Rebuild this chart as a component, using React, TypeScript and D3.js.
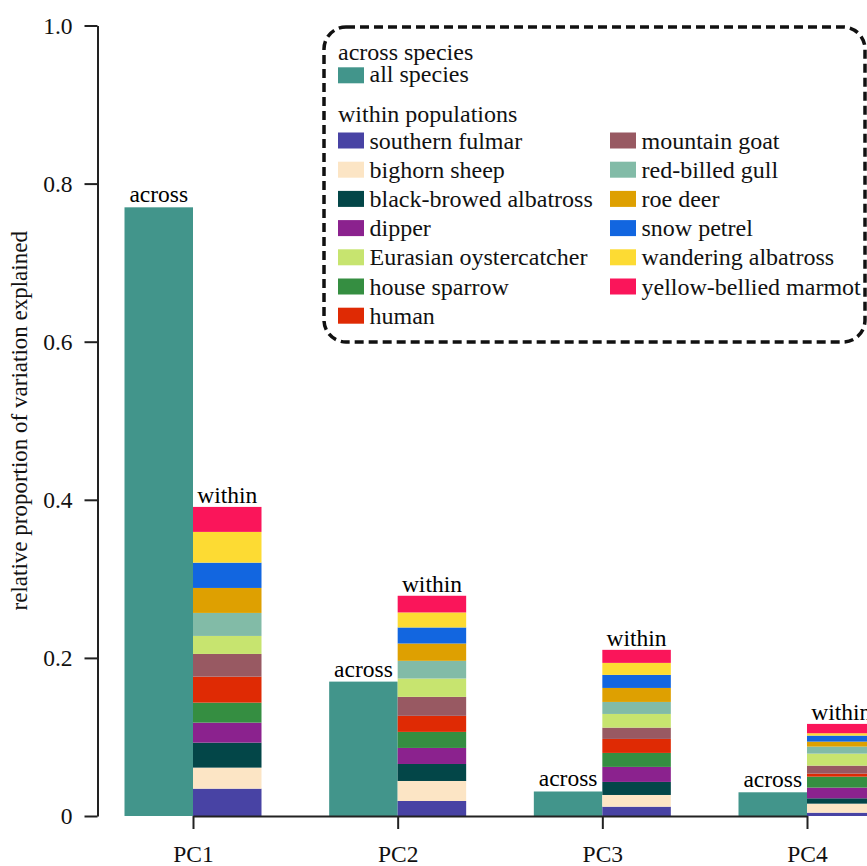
import React, { useEffect, useRef } from 'react';
import * as d3 from 'd3';

// principal components on the x axis
const components = ["PC1", "PC2", "PC3", "PC4"];

// across species: one value per PC
const acrossValues = [0.77, 0.17, 0.031, 0.03];

// within populations, stack order (bottom -> top)
const stackOrder = [
  "southern fulmar",
  "bighorn sheep",
  "black-browed albatross",
  "dipper",
  "house sparrow",
  "human",
  "mountain goat",
  "Eurasian oystercatcher",
  "red-billed gull",
  "roe deer",
  "snow petrel",
  "wandering albatross",
  "yellow-bellied marmot",
];

const withinPC1 = [0.0346, 0.0266, 0.0316, 0.0253, 0.0253, 0.0329, 0.0287, 0.0228, 0.0291, 0.0316, 0.032, 0.0389, 0.0316];
const withinPC2 = [0.019, 0.0253, 0.0215, 0.0203, 0.0203, 0.0203, 0.024, 0.0232, 0.0224, 0.0219, 0.0203, 0.019, 0.0211];
const withinPC3 = [0.0118, 0.0148, 0.0165, 0.019, 0.0177, 0.0177, 0.0143, 0.0173, 0.0152, 0.0177, 0.0165, 0.0152, 0.0165];
const withinPC4 = [0.0042, 0.0114, 0.0068, 0.0135, 0.0139, 0.0038, 0.0101, 0.0152, 0.0089, 0.0063, 0.0076, 0.003, 0.0118];

// legend columns
const legendCol1 = ["southern fulmar", "bighorn sheep", "black-browed albatross", "dipper", "Eurasian oystercatcher", "house sparrow", "human"];
const legendCol2 = ["mountain goat", "red-billed gull", "roe deer", "snow petrel", "wandering albatross", "yellow-bellied marmot"];

const yTicks = [0, 0.2, 0.4, 0.6, 0.8, 1.0];

const acrossColor = "#42958b";
const speciesColors: Record<string, string> = {
  "southern fulmar": "#4843a4",
  "bighorn sheep": "#fce5c5",
  "black-browed albatross": "#034648",
  "dipper": "#8b228e",
  "Eurasian oystercatcher": "#c7e46f",
  "house sparrow": "#358e41",
  "human": "#df2a04",
  "mountain goat": "#985962",
  "red-billed gull": "#82bba7",
  "roe deer": "#dea001",
  "snow petrel": "#1266e0",
  "wandering albatross": "#fddb33",
  "yellow-bellied marmot": "#fa155a",
};

const FONT = "'Liberation Serif', 'Times New Roman', serif";

const App: React.FC = () => {
  const svgRef = useRef<SVGSVGElement>(null);

  useEffect(() => {
    if (!svgRef.current) return;
    const svg = d3.select(svgRef.current);
    svg.selectAll("*").remove();

    const W = 867;
    const H = 866;
    svg.attr("width", W).attr("height", H);

    const x = d3.scalePoint<string>().domain(components).range([193, 807]);
    const y = d3.scaleLinear().domain([0, 1]).range([816, 25.5]);
    const barW = 68.5;

    const withinAll = [withinPC1, withinPC2, withinPC3, withinPC4];
    const table = components.map((pc, i) => {
      const row: Record<string, any> = { pc };
      stackOrder.forEach((s, j) => { row[s] = withinAll[i][j]; });
      return row;
    });
    const series = d3.stack<Record<string, any>>().keys(stackOrder)(table);

    // across bars
    svg.append("g")
      .selectAll("rect")
      .data(components)
      .enter()
      .append("rect")
      .attr("x", d => (x(d) as number) - barW)
      .attr("y", (d, i) => y(acrossValues[i]))
      .attr("width", barW)
      .attr("height", (d, i) => y(0) - y(acrossValues[i]))
      .attr("fill", acrossColor);

    // within stacked bars
    svg.append("g")
      .selectAll("g")
      .data(series)
      .enter()
      .append("g")
      .attr("fill", d => speciesColors[d.key])
      .selectAll("rect")
      .data(d => d)
      .enter()
      .append("rect")
      .attr("x", d => x(d.data.pc) as number)
      .attr("y", d => y(d[1]))
      .attr("width", barW)
      .attr("height", d => y(d[0]) - y(d[1]));

    // bar labels
    const totals = table.map(r => d3.sum(stackOrder, s => r[s] as number));
    components.forEach((pc, i) => {
      svg.append("text")
        .attr("x", (x(pc) as number) - barW / 2)
        .attr("y", y(acrossValues[i]) - 5)
        .attr("text-anchor", "middle")
        .style("font-family", FONT)
        .style("font-size", "23.5px")
        .text("across");
      svg.append("text")
        .attr("x", (x(pc) as number) + barW / 2)
        .attr("y", y(totals[i]) - 4)
        .attr("text-anchor", "middle")
        .style("font-family", FONT)
        .style("font-size", "23.5px")
        .text("within");
    });

    // x axis
    const xAxis = svg.append("g")
      .attr("transform", `translate(0,${y(0)})`)
      .call(d3.axisBottom(x).tickSize(13).tickSizeOuter(0).tickPadding(16));
    // y axis
    const yAxis = svg.append("g")
      .attr("transform", `translate(97.5,0)`)
      .call(d3.axisLeft(y).tickValues(yTicks).tickSize(13).tickSizeOuter(0).tickPadding(12)
        .tickFormat(d => (d === 0 ? "0" : d3.format(".1f")(d as number))));

    [xAxis, yAxis].forEach(a => {
      a.selectAll("path, line").attr("stroke", "#222").attr("stroke-width", 2);
      a.selectAll("text")
        .attr("fill", "#111")
        .style("font-family", FONT)
        .style("font-size", "23.5px");
    });

    svg.append("text")
      .attr("transform", `translate(27,${(y(0) + y(1)) / 2}) rotate(-90)`)
      .attr("text-anchor", "middle")
      .style("font-family", FONT)
      .style("font-size", "23px")
      .attr("fill", "#111")
      .text("relative proportion of variation explained");

    // legend
    const legend = svg.append("g");
    legend.append("rect")
      .attr("x", 324)
      .attr("y", 27)
      .attr("width", 541)
      .attr("height", 315)
      .attr("rx", 22)
      .attr("fill", "white")
      .attr("stroke", "#111")
      .attr("stroke-width", 3.5)
      .attr("stroke-dasharray", "9,5");

    const lfont = (sel: any) => sel.style("font-family", FONT).style("font-size", "24px").attr("fill", "#111");

    lfont(legend.append("text").attr("x", 338).attr("y", 59.5).text("across species"));
    legend.append("rect").attr("x", 338).attr("y", 67.3).attr("width", 26).attr("height", 16).attr("fill", acrossColor);
    lfont(legend.append("text").attr("x", 369.5).attr("y", 81.5).text("all species"));
    lfont(legend.append("text").attr("x", 338).attr("y", 121.7).text("within populations"));

    const rowStep = 29.2;
    const addColumn = (names: string[], sx: number) => {
      names.forEach((n, i) => {
        const top = 132.5 + i * rowStep;
        legend.append("rect").attr("x", sx).attr("y", top).attr("width", 26).attr("height", 16).attr("fill", speciesColors[n]);
        lfont(legend.append("text").attr("x", sx + 31.5).attr("y", top + 16).text(n));
      });
    };
    addColumn(legendCol1, 338);
    addColumn(legendCol2, 610);
  }, []);

  return (
    <svg
      ref={svgRef}
      style={{ position: "absolute", left: 0, top: 0, display: "block", background: "white" }}
    ></svg>
  );
};

export default App;
